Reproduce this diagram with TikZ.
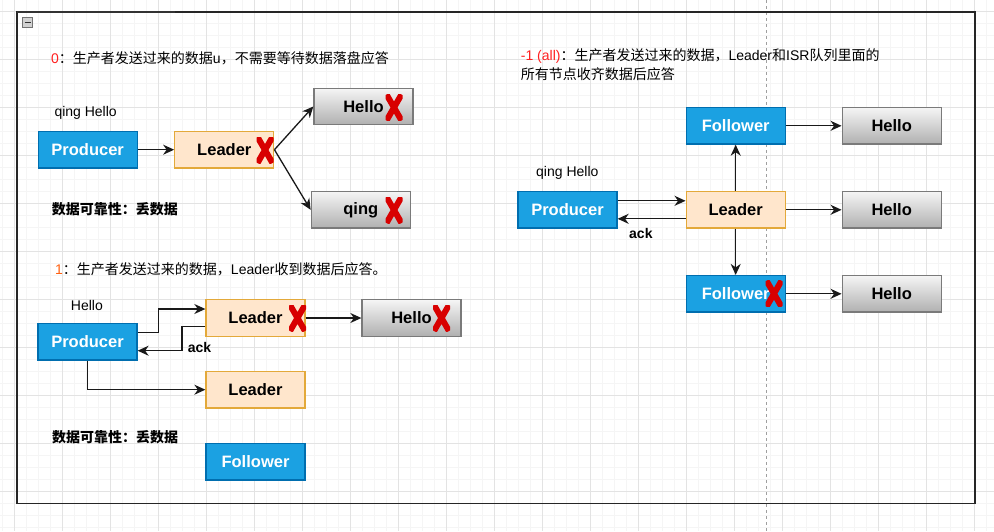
\documentclass[tikz,border=0pt]{standalone}
\usepackage{fontspec}
\setmainfont{Liberation Sans}
\newfontfamily\cjk{Noto Sans CJK SC}
\newcommand\zh[1]{{\cjk #1}}
\usetikzlibrary{arrows.meta,calc}
\definecolor{pfill}{HTML}{1BA1E2}
\definecolor{pline}{HTML}{006EAF}
\definecolor{lfill}{HTML}{FFE6CC}
\definecolor{lline}{HTML}{E3A93A}
\definecolor{htop}{HTML}{F5F5F5}
\definecolor{hbot}{HTML}{B0B0B0}
\definecolor{hline}{HTML}{7A7A7A}
\definecolor{xred}{HTML}{D80000}
\definecolor{gmin}{HTML}{F5F5F5}
\definecolor{gmaj}{HTML}{E3E3E3}
\definecolor{numred}{HTML}{FF2020}
\definecolor{numorange}{HTML}{FF6010}
\begin{document}
\begin{tikzpicture}[x=1pt,y=-1pt,
 box/.style={minimum width=99pt,minimum height=36.5pt,inner sep=0pt,line width=1.3pt,font=\fontsize{16.5}{18}\selectfont\bfseries},
 prod/.style={box,draw=pline,fill=pfill,text=white},
 lead/.style={box,draw=lline,fill=lfill,text=black},
 hello/.style={box,draw=hline,top color=htop,bottom color=hbot,text=black},
 xmark/.style={inner sep=0pt,minimum width=17pt,minimum height=26pt,
   path picture={\draw[xred,line width=6pt]
     ([xshift=1pt]path picture bounding box.north west) -- ([xshift=-1pt]path picture bounding box.south east)
     ([xshift=-1pt]path picture bounding box.north east) -- ([xshift=1pt]path picture bounding box.south west);}},
 arr/.style={draw=black!90,line width=1.3pt,-{Stealth[length=11pt,width=10pt,inset=3.5pt]}},
 txt/.style={inner sep=0pt,anchor=west,font=\fontsize{14}{17}\selectfont},
 btxt/.style={inner sep=0pt,anchor=west,font=\fontsize{14}{17}\selectfont\bfseries}]
\useasboundingbox (0,0) rectangle (994,531);
\fill[white] (0,0) rectangle (994,531);
% grid
\foreach \i in {0,...,82} \draw[gmin,line width=0.7pt] ({2+12*\i},0) -- ++(0,531);
\foreach \i in {0,...,43} \draw[gmin,line width=0.7pt] (0,{11+12*\i}) -- ++(994,0);
\foreach \i in {0,...,20} \draw[gmaj,line width=0.8pt] ({14+48*\i},0) -- ++(0,531);
\foreach \i in {0,...,10} \draw[gmaj,line width=0.8pt] (0,{11+48*\i}) -- ++(994,0);
\draw[gray!75,dashed,line width=0.7pt] (766.5,0) -- (766.5,531);
% frame
\node[draw=black!85,line width=1.3pt,outer sep=0pt,minimum width=958pt,minimum height=491.5pt,inner sep=0pt,anchor=north west] (frame) at (17,12) {};
\draw[black!80,line width=2pt] (frame.north west) -- ++(158,0);
\node[draw=gray!90!black,fill=gray!35,minimum size=10pt,inner sep=0pt] (col) at (27.5,22.3) {};
\draw[black!80,line width=1.2pt] ([xshift=-3pt]col.center) -- ([xshift=3pt]col.center);

% section 0
\node[txt] (t0) at (51,58.7) {\textcolor{numred}{0}\zh{：生产者发送过来的数据}u\zh{，不需要等待数据落盘应答}};
\node[txt] (q0) at (54.3,113.3) {qing Hello};
\node[prod] (p0) at (87.7,149.7) {Producer};
\node[lead] (l0) at (224.3,149.7) {Leader};
\node[xmark] (l0x) at (265,150) {};
\node[hello] (h0a) at (363.5,106.5) {Hello};
\node[xmark] (h0ax) at (394,107.5) {};
\node[hello] (h0b) at (360.8,209.8) {qing};
\node[xmark] (h0bx) at (394,210) {};
\draw[arr] (p0) -- (l0);
\draw[arr] (l0.east) -- (h0a.west);
\draw[arr] (l0.east) -- (h0b.west);
\node[btxt] (r0) at (51.7,209.3) {\zh{数据可靠性：丢数据}};

% section 1
\node[txt] (t1) at (55,269.3) {\textcolor{numorange}{1}\zh{：生产者发送过来的数据，}Leader\zh{收到数据后应答。}};
\node[txt] (hl1) at (70.7,305) {Hello};
\node[prod] (p1) at (87.5,341.8) {Producer};
\node[lead] (l1) at (255.5,318) {Leader};
\node[xmark] (l1x) at (297.5,318) {};
\node[hello] (h1) at (411.5,318) {Hello};
\node[xmark] (h1x) at (441.5,318) {};
\node[lead] (l2) at (255.5,389.7) {Leader};
\node[prod] (f1) at (255.5,461.8) {Follower};
\draw[arr] ([yshift=9.5pt]p1.east) -- ++(21,0) |- ([yshift=9pt]l1.west);
\draw[arr] ([yshift=-8.7pt]l1.west) -- ++(-23.3,0) |- ([yshift=-8.9pt]p1.east);
\draw[arr] (p1.south) |- (l2.west);
\draw[arr] (l1.east) -- (h1.west);
\node[btxt] (ack1) at (187.7,347) {ack};
\node[btxt] (r1) at (52,437.3) {\zh{数据可靠性：丢数据}};

% section -1
\node[txt] (t2a) at (520.7,56) {\textcolor{numred}{-1 (all)}\zh{：生产者发送过来的数据，}Leader\zh{和}ISR\zh{队列里面的}};
\node[txt] (t2b) at (520.7,74) {\zh{所有节点收齐数据后应答}};
\node[txt] (q2) at (536,173.3) {qing Hello};
\node[prod] (p2) at (567.5,209.8) {Producer};
\node[lead] (l3) at (735.7,209.8) {Leader};
\node[prod] (f2) at (735.7,125.8) {Follower};
\node[prod] (f3) at (735.7,293.8) {Follower};
\node[xmark] (f3x) at (774,293.7) {};
\node[hello] (h2) at (891.7,125.8) {Hello};
\node[hello] (h3) at (891.7,209.8) {Hello};
\node[hello] (h4) at (891.7,293.8) {Hello};
\draw[arr] ([yshift=9pt]p2.east) -- ([yshift=9pt]l3.west);
\draw[arr] ([yshift=-9pt]l3.west) -- ([yshift=-9pt]p2.east);
\draw[arr] (l3) -- (f2);
\draw[arr] (l3) -- (f3);
\draw[arr] (f2) -- (h2);
\draw[arr] (l3) -- (h3);
\draw[arr] (f3) -- (h4);
\node[btxt] (ack2) at (629,233) {ack};
\end{tikzpicture}
\end{document}
